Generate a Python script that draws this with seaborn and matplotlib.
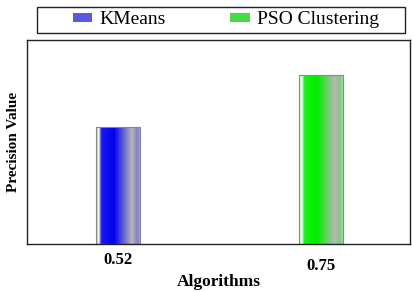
import numpy as np
import pandas as pd
import matplotlib
matplotlib.use("Agg")
import matplotlib.pyplot as plt
import matplotlib.transforms as mtransforms
from matplotlib.colors import LinearSegmentedColormap, to_rgb
from matplotlib.patches import Patch, Rectangle
import seaborn as sns

# Data
algorithms = ['KMeans', 'PSO Clustering']
precision = [0.52, 0.75]
tick_labels = ['0.52', '0.75']
bar_colors = ['#0000ee', '#00ee00']

sns.set_theme(style='white')
plt.rcParams['font.family'] = ['Liberation Serif', 'DejaVu Serif']
plt.rcParams['text.color'] = 'black'
plt.rcParams['axes.labelcolor'] = 'black'
plt.rcParams['xtick.color'] = 'black'

df = pd.DataFrame({'Algorithm': algorithms, 'Precision': precision})

fig = plt.figure(figsize=(4.12, 2.92), dpi=100)
ax = fig.add_axes([27 / 412, 48 / 292, 383 / 412, 204 / 292])

sns.barplot(data=df, x='Algorithm', y='Precision', hue='Algorithm',
            palette=bar_colors, width=0.217, legend=False, ax=ax)


def gradient_cmap(color):
    c = np.array(to_rgb(color))
    light = c * 0.35 + 0.65
    gray = np.array([0.72, 0.72, 0.72])
    stops = [
        (0.00, light),
        (0.06, np.array([1, 1, 1])),
        (0.12, c * 0.9 + 0.1),
        (0.40, c),
        (0.80, gray),
        (0.92, gray * 0.7 + c * 0.3),
        (1.00, light),
    ]
    return LinearSegmentedColormap.from_list('grad', [(p, tuple(col)) for p, col in stops])


grad = np.linspace(0, 1, 256).reshape(1, -1)
for patch, color in zip(ax.patches, bar_colors):
    x0, y0 = patch.get_x(), patch.get_y()
    w, h = patch.get_width(), patch.get_height()
    im = ax.imshow(grad, cmap=gradient_cmap(color), aspect='auto',
                   extent=[x0, x0 + w, y0, y0 + h], zorder=patch.get_zorder() + 0.1)
    im.set_clip_path(patch)
    patch.set_facecolor('none')
    patch.set_edgecolor('#888888')
    patch.set_linewidth(0.8)
    patch.set_zorder(patch.get_zorder() + 0.2)

ax.set_xlim(-0.449, 1.438)
ax.set_ylim(0, 0.905)

ax.set_xticks(range(len(tick_labels)))
ax.set_xticklabels(tick_labels, fontsize=12, fontweight='bold')
ax.tick_params(axis='x', length=0, pad=6)
# second tick label sits a bit lower in the original
lbl = ax.get_xticklabels()[1]
lbl.set_transform(lbl.get_transform() + mtransforms.ScaledTranslation(0, -6 / 100, fig.dpi_scale_trans))
ax.set_yticks([])

ax.set_xlabel('Algorithms', fontsize=12.5, fontweight='bold', labelpad=0)
ax.set_ylabel('Precision Value', fontsize=11, fontweight='bold', labelpad=5)

for side in ['left', 'right', 'top', 'bottom']:
    ax.spines[side].set_visible(True)
    ax.spines[side].set_color('#222222')
    ax.spines[side].set_linewidth(1.0)

# Legend box above the axes
fig.patches.append(Rectangle((37 / 412, 259 / 292), 368 / 412, 26 / 292,
                             transform=fig.transFigure, facecolor='white',
                             edgecolor='#222222', linewidth=1.0))
handles = [Patch(facecolor='#5a5ae0', edgecolor='none'),
           Patch(facecolor='#44dd44', edgecolor='none')]
fig.legend(handles, algorithms, loc='center', bbox_to_anchor=(226 / 412, 272 / 292),
           ncol=2, frameon=False, fontsize=14, handlelength=1.0, handleheight=0.4,
           handletextpad=0.4, columnspacing=3.3, borderaxespad=0,
           labelcolor='black')

fig.savefig('out.png', dpi=100)
